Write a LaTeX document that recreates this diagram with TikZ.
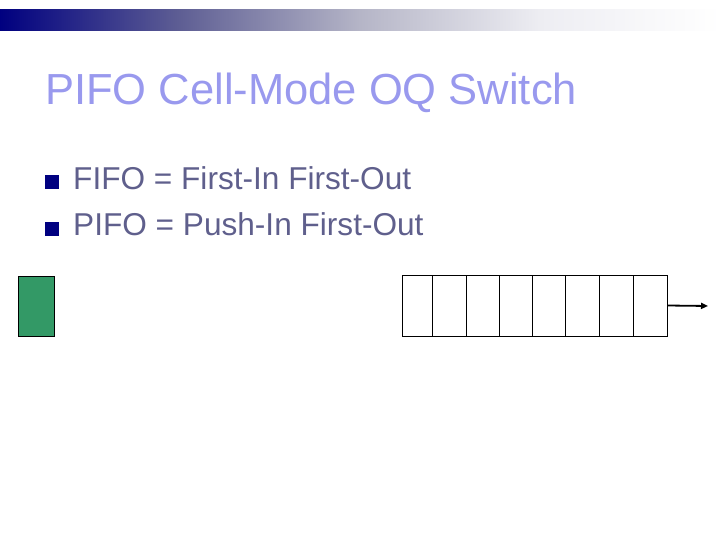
\documentclass[tikz,border=0pt]{standalone}
\usepackage{fontspec}
\setmainfont{Liberation Sans}
\usetikzlibrary{arrows.meta}
\definecolor{titleblue}{RGB}{153,153,238}
\definecolor{textgray}{RGB}{95,95,140}
\definecolor{bulletnavy}{RGB}{0,0,128}
\definecolor{cellgreen}{RGB}{51,153,102}
\pgfdeclarehorizontalshading{titlebar}{100bp}{rgb(0bp)=(0,0,0.5); rgb(25bp)=(0,0,0.5); rgb(37.5bp)=(0.37,0.37,0.58); rgb(50bp)=(0.71,0.71,0.78); rgb(62.5bp)=(0.93,0.93,0.95); rgb(75bp)=(1,1,1); rgb(100bp)=(1,1,1)}
\tikzset{
  cell/.style={draw,line width=0.9pt,minimum height=61pt,inner sep=0pt},
  bullet/.style={fill=bulletnavy,minimum size=14pt,inner sep=0pt},
  item/.style={anchor=base west,inner sep=0pt,text=textgray,font=\fontsize{31.6}{36}\selectfont},
}
\begin{document}
\begin{tikzpicture}[x=1pt,y=-1pt]
  \useasboundingbox (0,0) rectangle (720,540);
  \shade[shading=titlebar] (0,10) rectangle (720,31);
  \node[anchor=base west,inner sep=0pt,text=titleblue,font=\fontsize{43.5}{50}\selectfont] (title) at (45,105) {PIFO Cell-Mode OQ Switch};
  \node[bullet] (b1) at (52,182) {};
  \node[item] (fifo) at (73,190) {FIFO = First-In First-Out};
  \node[bullet] (b2) at (52,229) {};
  \node[item] (pifo) at (73,236) {PIFO = Push-In First-Out};
  % packet
  \node[draw,fill=cellgreen,line width=0.9pt,minimum width=36pt,minimum height=60pt,inner sep=0pt] (pkt) at (36,306) {};
  % output queue
  \foreach \i/\l/\r in {1/402/432,2/432/466,3/466/499,4/499/532,5/532/565,6/565/599,7/599/633,8/633/667}
    \node[cell,minimum width=\r-\l] (c\i) at ({(\l+\r)/2},305.5) {};
  \coordinate (out) at (708,306);
  \draw[line width=1.8pt,-{Triangle[length=7pt,width=6pt]}] (c8.east) -- (out);
\end{tikzpicture}
\end{document}
